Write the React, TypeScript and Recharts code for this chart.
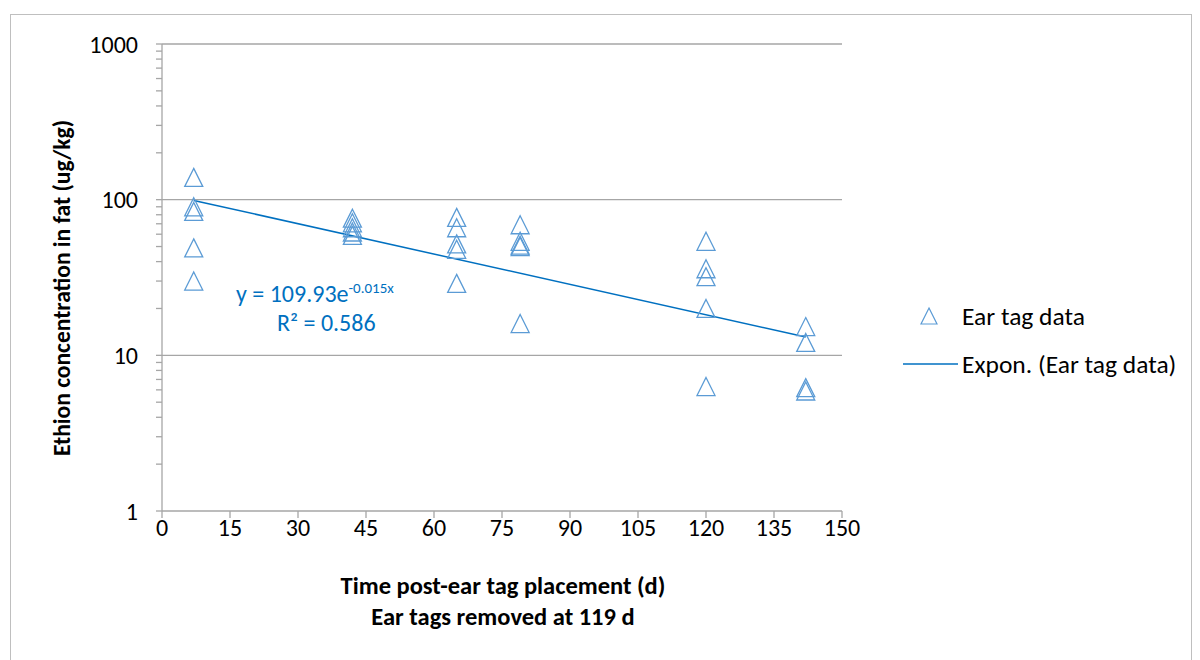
import {
  ComposedChart,
  Line,
  ReferenceLine,
  Scatter,
  XAxis,
  YAxis,
} from 'recharts';

const FONT = 'Carlito, Calibri, Lato, sans-serif';
const MARKER = '#5B9BD5';
const TREND = '#0070C0';
const AXIS = '#A6A6A6';

// sampling day and measured concentration (ug/kg) for each animal
const days = [
  7, 7, 7, 7, 7,
  42, 42, 42, 42, 42,
  65, 65, 65, 65, 65,
  79, 79, 79, 79, 79,
  120, 120, 120, 120, 120,
  142, 142, 142, 142,
];
const concentrations = [
  139, 90, 84, 49, 30,
  76, 71, 66, 62, 59,
  77, 66, 52, 48, 29,
  69, 54, 51, 50, 16,
  54, 36, 32, 20, 6.3,
  15.3, 12.1, 6.2, 5.9,
];

// exponential trendline end points (y = 109.93e^-0.015x)
const trendDays = [7, 142];
const trendValues = [98.9, 13.1];

const xTicks = [0, 15, 30, 45, 60, 75, 90, 105, 120, 135, 150];
const yTicks = [
  1, 2, 3, 4, 5, 6, 7, 8, 9,
  10, 20, 30, 40, 50, 60, 70, 80, 90,
  100, 200, 300, 400, 500, 600, 700, 800, 900,
  1000,
];
const yMajor = [1, 10, 100, 1000];
const gridValues = [10, 100, 1000];

const points = days.map((x, i) => ({ x, y: concentrations[i] }));
const trend = trendDays.map((x, i) => ({ x, y: trendValues[i] }));

function Triangle({ cx, cy }: { cx?: number; cy?: number }) {
  if (cx === undefined || cy === undefined) return null;
  const h = 9;
  return (
    <polygon
      points={`${cx},${cy - h} ${cx + h},${cy + h} ${cx - h},${cy + h}`}
      fill="none"
      stroke={MARKER}
      strokeWidth={1.3}
    />
  );
}

export default function App() {
  return (
    <div
      style={{
        position: 'absolute',
        left: 0,
        top: 0,
        width: 1200,
        height: 660,
        overflow: 'hidden',
        background: '#fff',
        fontFamily: FONT,
      }}
    >
      <div
        style={{
          position: 'absolute',
          left: 10,
          top: 14,
          width: 1180,
          height: 680,
          border: '1px solid #BFBFBF',
        }}
      />
      <ComposedChart
        width={1200}
        height={660}
        margin={{ top: 44, right: 358, bottom: 109, left: 0 }}
        style={{ position: 'absolute', left: 0, top: 0 }}
      >
        {gridValues.map((v) => (
          <ReferenceLine key={v} y={v} stroke={AXIS} strokeWidth={1.3} />
        ))}
        <XAxis
          type="number"
          dataKey="x"
          domain={[0, 150]}
          ticks={xTicks}
          height={40}
          stroke={AXIS}
          strokeWidth={1.3}
          tickSize={7}
          tickMargin={1}
          tick={{ fill: '#000', fontSize: 24, fontFamily: FONT }}
          allowDataOverflow
        />
        <YAxis
          type="number"
          dataKey="y"
          scale="log"
          domain={[1, 1000]}
          ticks={yTicks}
          interval={0}
          width={162}
          stroke={AXIS}
          strokeWidth={1.3}
          tickSize={6}
          tickMargin={18}
          tickFormatter={(v: number) => (yMajor.includes(v) ? String(v) : '')}
          tick={{ fill: '#000', fontSize: 24, fontFamily: FONT }}
          allowDataOverflow
        />
        <Line
          data={trend}
          dataKey="y"
          stroke={TREND}
          strokeWidth={1.5}
          dot={false}
          isAnimationActive={false}
        />
        <Scatter
          data={points}
          dataKey="y"
          shape={<Triangle />}
          isAnimationActive={false}
        />
      </ComposedChart>

      {/* trendline equation */}
      <div
        style={{
          position: 'absolute',
          left: 236,
          top: 272,
          color: TREND,
          fontSize: 24,
          lineHeight: '32px',
          whiteSpace: 'nowrap',
        }}
      >
        y = 109.93e<sup style={{ fontSize: 15 }}>-0.015x</sup>
      </div>
      <div
        style={{
          position: 'absolute',
          left: 277,
          top: 307,
          color: TREND,
          fontSize: 24,
          lineHeight: '32px',
          whiteSpace: 'nowrap',
        }}
      >
        R² = 0.586
      </div>

      {/* axis titles */}
      <div
        style={{
          position: 'absolute',
          left: 62,
          top: 288,
          transform: 'translate(-50%, -50%) rotate(-90deg)',
          fontWeight: 'bold',
          fontSize: 23.5,
          whiteSpace: 'nowrap',
        }}
      >
        Ethion concentration in fat (ug/kg)
      </div>
      <div
        style={{
          position: 'absolute',
          left: 503,
          top: 571,
          transform: 'translateX(-50%)',
          fontWeight: 'bold',
          fontSize: 24.5,
          lineHeight: '31px',
          textAlign: 'center',
          whiteSpace: 'nowrap',
        }}
      >
        <div>Time post-ear tag placement (d)</div>
        <div>Ear tags removed at 119 d</div>
      </div>

      {/* legend */}
      <div style={{ position: 'absolute', left: 900, top: 300, fontSize: 25.5 }}>
        <div style={{ display: 'flex', alignItems: 'center', height: 32 }}>
          <svg width={62} height={20}>
            <polygon points="29,2 37,18 21,18" fill="none" stroke={MARKER} strokeWidth={1.2} />
          </svg>
          <span>Ear tag data</span>
        </div>
        <div style={{ display: 'flex', alignItems: 'center', height: 32, marginTop: 16 }}>
          <svg width={62} height={20}>
            <line x1={3} y1={10} x2={58} y2={10} stroke={TREND} strokeWidth={1.5} />
          </svg>
          <span>Expon. (Ear tag data)</span>
        </div>
      </div>
    </div>
  );
}
